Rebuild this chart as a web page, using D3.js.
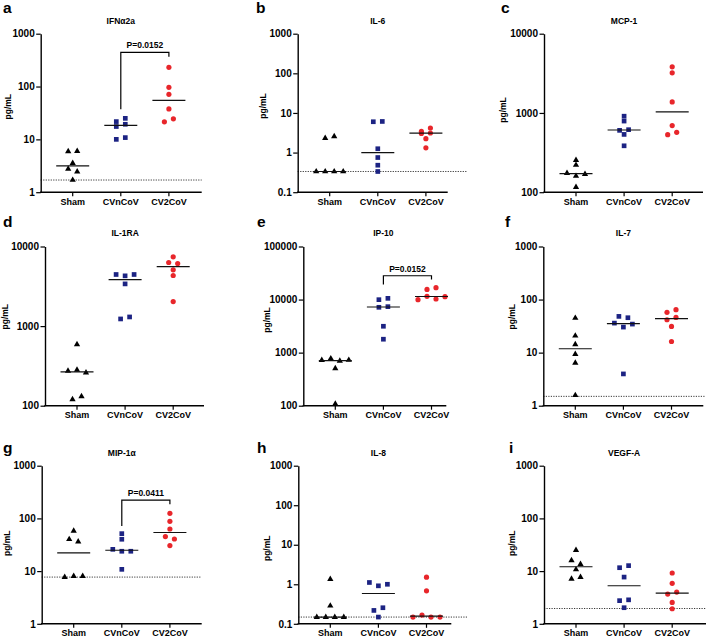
<!DOCTYPE html>
<html>
<head>
<meta charset="utf-8">
<script src="https://cdn.jsdelivr.net/npm/d3@7"></script>
<style>
  html, body { margin: 0; padding: 0; background: #fff; }
  svg { display: block; }
  text { font-family: "Liberation Sans", Arial, Helvetica, sans-serif; font-weight: bold; fill: #000; }
</style>
</head>
<body>
<svg id="chart" width="706" height="638"></svg>
<script>
// ---------------- DATA ----------------
const categories = ["Sham", "CVnCoV", "CV2CoV"];
const panelLetters = ["a", "b", "c", "d", "e", "f", "g", "h", "i"];
const titles = ["IFNα2a", "IL-6", "MCP-1", "IL-1RA", "IP-10", "IL-7", "MIP-1α", "IL-8", "VEGF-A"];
const yLabel = "pg/mL";

// values per panel (a..i), each group of 6 animals
const shamValues = [
  [5.9, 6.0, 3.55, 2.75, 2.45, 1.7],
  [2.3, 2.55, 0.333, 0.333, 0.333, 0.333],
  [254, 220, 174, 160, 169, 116],
  [590, 273, 281, 260, 120, 131],
  [720, 775, 700, 725, 503, 108],
  [44.9, 20.8, 14.3, 9.35, 6.4, 1.57],
  [57.8, 40.2, 36.3, 7.65, 8.0, 8.0],
  [1.35, 0.286, 0.148, 0.148, 0.148, 0.148],
  [24.9, 16.0, 13.5, 10.7, 7.1, 7.7]
];
const cvnCovValues = [
  [21.7, 25.0, 17.5, 19.3, 10.0, 10.8],
  [6.0, 6.1, 1.25, 0.75, 0.48, 0.333],
  [910, 790, 603, 615, 536, 385],
  [4450, 4280, 4450, 3390, 1230, 1303],
  [9950, 10550, 7150, 7350, 3140, 1790],
  [48.2, 45.5, 36, 30.3, 34.5, 3.97],
  [51.4, 40.2, 25.9, 23.8, 23.8, 10.8],
  [1.11, 0.914, 1.0, 0.218, 0.255, 0.148],
  [11.6, 12.7, 7.7, 2.75, 2.85, 2.02]
];
const cv2CovValues = [
  [231, 96.6, 71.3, 37.7, 21.5, 24.5],
  [3.43, 4.17, 3.05, 3.12, 2.24, 1.32],
  [3820, 3210, 1377, 692, 532, 569],
  [7413, 6290, 6109, 5090, 4317, 2032],
  [15560, 16740, 9950, 11500, 10240, 11330],
  [57.4, 64.4, 41.7, 46.1, 31.2, 16.2],
  [125, 88, 63, 45.1, 40.7, 30.5],
  [1.51, 0.684, 0.148, 0.166, 0.148, 0.148],
  [9.2, 5.86, 3.67, 4.0, 2.55, 1.93]
];
const yTicks = [
  [1, 10, 100, 1000],
  [0.1, 1, 10, 100, 1000],
  [100, 1000, 10000],
  [100, 1000, 10000],
  [100, 1000, 10000, 100000],
  [1, 10, 100, 1000],
  [1, 10, 100, 1000],
  [0.1, 1, 10, 100, 1000],
  [1, 10, 100, 1000]
];
// limit of detection (dotted line), null = none
const lodValues = [1.7, 0.333, null, null, null, 1.5, 7.7, 0.148, 1.95];
// significance brackets: panel index, groups, label, bracket top & leg ends (pg/mL)
const brackets = [
  { panel: 0, from: "CVnCoV", to: "CV2CoV", label: "P=0.0152", top: 444, leftEnd: 37, rightEnd: 367 },
  { panel: 4, from: "CVnCoV", to: "CV2CoV", label: "P=0.0152", top: 28100, leftEnd: 19300, rightEnd: 24000 },
  { panel: 6, from: "CVnCoV", to: "CV2CoV", label: "P=0.0411", top: 223, leftEnd: 72, rightEnd: 185 }
];

// ---------------- LAYOUT ----------------
const rowsY = [[33.7, 192.2], [246.5, 405.7], [465.7, 623.8]];
const layout = [
  { ax: 40.7,  len: 161, lodEnd: 161, letter: [3,   13.3],  ylab: [7.7, 106.7] },
  { ax: 297.7, len: 150, lodEnd: 170, letter: [256, 13.3],  ylab: [263.3, 106] },
  { ax: 544,   len: 159, lodEnd: 159, letter: [501, 13.3],  ylab: [503.3, 110] },
  { ax: 45,    len: 159, lodEnd: 159, letter: [3,   227.3], ylab: [5.5, 316.7] },
  { ax: 303.3, len: 143, lodEnd: 160, letter: [257, 227.3], ylab: [267.3, 320] },
  { ax: 543.3, len: 160, lodEnd: 162, letter: [505, 226.7], ylab: [511.7, 316.7] },
  { ax: 41.7,  len: 160, lodEnd: 160, letter: [3,   452.7], ylab: [6.7, 543.3] },
  { ax: 298.3, len: 153, lodEnd: 170, letter: [257, 453.3], ylab: [266.7, 548.3] },
  { ax: 544,   len: 162, lodEnd: 162, letter: [509, 453.3], ylab: [511.7, 543.3] }
];
const colors = { Sham: "#000000", CVnCoV: "#1c2383", CV2CoV: "#e8262b" };
const shapes = { Sham: d3.symbolTriangle, CVnCoV: d3.symbolSquare, CV2CoV: d3.symbolCircle };
const shapeSize = { Sham: 17, CVnCoV: 22, CV2CoV: 21 };

const svg = d3.select("#chart");

function swarm(vals, y, cx) {
  const pts = vals.map((v, i) => ({ v, i, py: y(v) }));
  const sorted = pts.slice().sort((a, b) => a.py - b.py || a.i - b.i);
  const rows = [];
  let cur = null;
  for (const p of sorted) {
    if (cur && p.py - cur.start < 4.2) cur.items.push(p);
    else { cur = { start: p.py, items: [p] }; rows.push(cur); }
  }
  rows.forEach(r => {
    r.items.sort((a, b) => a.i - b.i);
    const n = r.items.length;
    r.items.forEach((p, k) => { p.px = cx + (k - (n - 1) / 2) * 9; });
  });
  return pts;
}

for (let p = 0; p < 9; p++) {
  const L = layout[p];
  const [top, bot] = rowsY[Math.floor(p / 3)];
  const ticks = yTicks[p];
  const y = d3.scaleLog().domain([ticks[0], ticks[ticks.length - 1]]).range([bot, top]);
  const x = d3.scalePoint().domain(categories).range([L.ax + 32, L.ax + 32 + 2 * 48.1]);
  const xc = c => x(c);

  const g = svg.append("g");

  // panel letter
  g.append("text").attr("x", L.letter[0]).attr("y", L.letter[1])
    .style("font-size", "15.5px").text(panelLetters[p]);

  // title
  g.append("text").attr("x", xc("CVnCoV")).attr("y", top - 13).attr("dy", "0.35em")
    .attr("text-anchor", "middle").style("font-size", "8.5px").text(titles[p]);

  // y label
  g.append("text").attr("transform", `translate(${L.ylab[0]},${L.ylab[1]}) rotate(-90)`)
    .attr("text-anchor", "middle").attr("dy", "0.35em")
    .style("font-size", "8.5px").text(yLabel);

  // LOD dotted line
  if (lodValues[p] != null) {
    g.append("line").attr("x1", L.ax).attr("x2", L.ax + L.lodEnd)
      .attr("y1", y(lodValues[p])).attr("y2", y(lodValues[p]))
      .attr("stroke", "#222").attr("stroke-width", 0.9).attr("stroke-dasharray", "1.2,1.3");
  }

  // y axis
  const yAxis = d3.axisLeft(y).tickValues(ticks).tickFormat(d => String(d))
    .tickSize(4.5).tickSizeOuter(0).tickPadding(1.5);
  const ya = g.append("g").attr("transform", `translate(${L.ax},0)`).call(yAxis);
  ya.attr("font-family", null).attr("font-size", null);
  ya.select(".domain").attr("stroke", "#000").attr("stroke-width", 1.4);
  ya.selectAll(".tick line").attr("stroke", "#000").attr("stroke-width", 1.2);
  ya.selectAll(".tick text").style("font-size", "10px").attr("fill", "#000");

  // x axis
  const xa = g.append("g").attr("transform", `translate(0,${bot})`);
  xa.append("line").attr("x1", L.ax - 0.7).attr("x2", L.ax + L.len).attr("y1", 0).attr("y2", 0)
    .attr("stroke", "#000").attr("stroke-width", 1.4);
  categories.forEach(c => {
    xa.append("line").attr("x1", xc(c)).attr("x2", xc(c)).attr("y1", 0).attr("y2", 4)
      .attr("stroke", "#000").attr("stroke-width", 1.2);
    xa.append("text").attr("x", xc(c)).attr("y", 12.6).attr("text-anchor", "middle")
      .style("font-size", "9px").text(c);
  });

  // points & median lines
  const groups = [["Sham", shamValues[p]], ["CVnCoV", cvnCovValues[p]], ["CV2CoV", cv2CovValues[p]]];
  groups.forEach(([c, vals]) => {
    const cx = xc(c);
    const med = d3.median(vals);
    const pts = swarm(vals, y, cx);
    g.selectAll(null).data(pts).enter().append("path")
      .attr("d", d3.symbol(shapes[c], shapeSize[c]))
      .attr("transform", d => `translate(${d.px},${d.py})`)
      .attr("fill", colors[c]);
    g.append("line").attr("x1", cx - 16.5).attr("x2", cx + 16.5)
      .attr("y1", y(med)).attr("y2", y(med))
      .attr("stroke", "#111").attr("stroke-width", 1.2);
  });

  // brackets
  brackets.filter(b => b.panel === p).forEach(b => {
    const x1 = xc(b.from), x2 = xc(b.to), yt = y(b.top);
    g.append("path")
      .attr("d", `M${x1},${y(b.leftEnd)}V${yt}H${x2}V${y(b.rightEnd)}`)
      .attr("fill", "none").attr("stroke", "#000").attr("stroke-width", 1.2);
    g.append("text").attr("x", (x1 + x2) / 2).attr("y", yt - 4)
      .attr("text-anchor", "middle").style("font-size", "8.5px").text(b.label);
  });
}
</script>
</body>
</html>
